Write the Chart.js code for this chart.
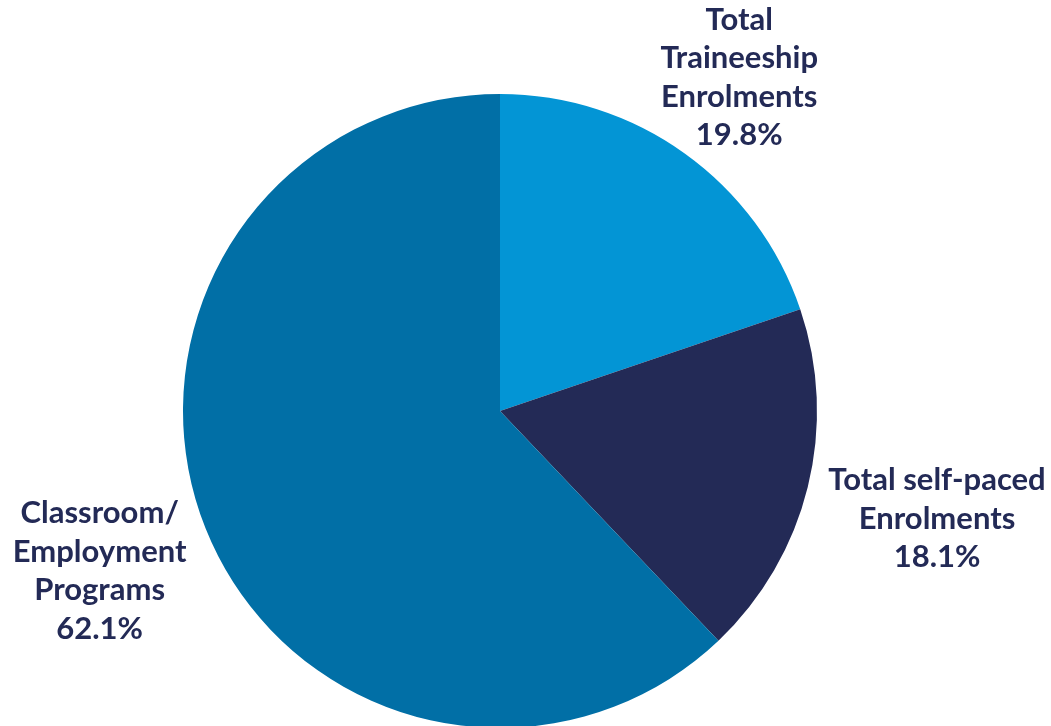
<!DOCTYPE html>
<html>
<head>
<meta charset="utf-8">
<script src="https://cdn.jsdelivr.net/npm/chart.js@4/dist/chart.umd.min.js"></script>
<style>
  html, body { margin: 0; padding: 0; background: #ffffff; overflow: hidden; }
  #wrap { position: absolute; left: 0; top: 0; width: 1051px; height: 822px; }
</style>
</head>
<body>
<div id="wrap"><canvas id="c" width="1051" height="822"></canvas></div>
<script>
const categories = [
  ["Total", "Traineeship", "Enrolments"],
  ["Total self-paced", "Enrolments"],
  ["Classroom/", "Employment", "Programs"]
];
const values = [19.8, 18.1, 62.1];
const valueLabels = ["19.8%", "18.1%", "62.1%"];
const colors = ["#0395D5", "#232A56", "#016FA6"];

const labelPlugin = {
  id: 'sliceLabels',
  afterDatasetsDraw(chart, args, opts) {
    const ctx = chart.ctx;
    const meta = chart.getDatasetMeta(0);
    ctx.save();
    ctx.fillStyle = opts.color;
    ctx.font = opts.font;
    ctx.textAlign = 'center';
    ctx.textBaseline = 'middle';
    meta.data.forEach((arc, i) => {
      const mid = (arc.startAngle + arc.endAngle) / 2;
      const d = arc.outerRadius * opts.factors[i];
      const cx = arc.x + Math.cos(mid) * d;
      const cy = arc.y + Math.sin(mid) * d;
      const lines = categories[i].concat([valueLabels[i]]);
      const lh = opts.lineHeight;
      const top = cy - (lines.length - 1) * lh / 2;
      lines.forEach((t, k) => ctx.fillText(t, cx, top + k * lh));
    });
    ctx.restore();
  }
};

new Chart(document.getElementById('c'), {
  type: 'pie',
  data: {
    labels: categories.map(c => c.join(' ')),
    datasets: [{
      data: values,
      backgroundColor: colors,
      borderWidth: 0,
      hoverOffset: 0
    }]
  },
  options: {
    responsive: false,
    animation: false,
    radius: 317,
    layout: { padding: { left: 0, right: 51, top: 0, bottom: 0 } },
    plugins: {
      legend: { display: false },
      tooltip: { enabled: false },
      sliceLabels: {
        color: '#232A56',
        font: 'bold 31px Lato',
        lineHeight: 38.5,
        factors: [1.295, 1.42, 1.36]
      }
    }
  },
  plugins: [labelPlugin]
});
</script>
</body>
</html>
